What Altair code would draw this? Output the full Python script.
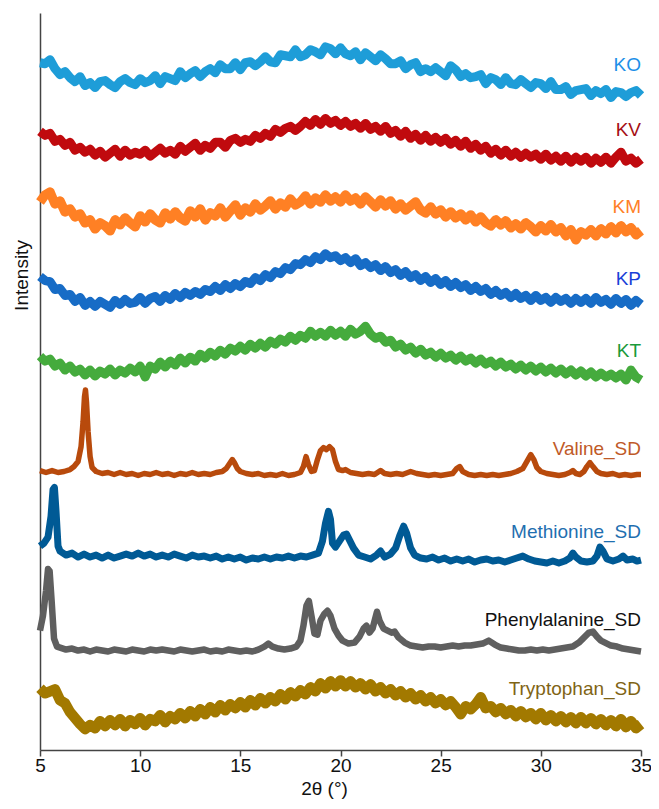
import altair as alt
import pandas as pd

FONT = "Liberation Sans, Arial, sans-serif"

# ---- series names, colours and label levels --------------------------------
SERIES = ["KO", "KV", "KM", "KP", "KT",
          "Valine_SD", "Methionine_SD", "Phenylalanine_SD", "Tryptophan_SD"]
LINE_COLORS = ["#1e9dd8", "#c00a0e", "#ff8024", "#176cc6", "#45ab3d",
               "#b84a0c", "#005a95", "#5f5f5f", "#a27900"]
LABEL_COLORS = ["#1e8fe8", "#a50f15", "#ff7f27", "#1a3fd8", "#1a9a3a",
                "#bf5a28", "#1f6fb0", "#111111", "#7f6415"]
LABEL_LEVEL = [683, 617, 540, 468, 395, 297, 213, 125, 55]
TICKS = [5, 10, 15, 20, 25, 30, 35]

# ---- amorphous patterns: 2θ from 5° to 35° in 0.25° steps (offset intensity)
KO = [691, 690, 694, 685, 679, 682, 676, 672, 677, 668, 671, 666,
      672, 673, 669, 666, 672, 675, 671, 669, 675, 671, 673, 678,
      670, 677, 675, 673, 682, 676, 680, 683, 677, 682, 685, 681,
      689, 685, 685, 691, 684, 691, 692, 688, 692, 697, 692, 691,
      699, 698, 697, 704, 697, 699, 704, 702, 699, 707, 705, 700,
      706, 700, 698, 702, 694, 701, 697, 693, 699, 695, 690, 690,
      693, 685, 689, 691, 682, 685, 682, 686, 682, 678, 688, 684,
      677, 680, 676, 677, 679, 670, 676, 674, 669, 676, 670, 669,
      674, 670, 666, 671, 670, 665, 672, 664, 664, 667, 659, 663,
      664, 665, 658, 663, 660, 664, 656, 662, 661, 657, 661, 663,
      658]
KV = [622, 618, 620, 612, 614, 608, 611, 603, 606, 601, 604, 598,
      602, 596, 600, 604, 597, 603, 598, 601, 599, 603, 597, 601,
      605, 600, 603, 599, 607, 602, 606, 610, 603, 608, 605, 611,
      611, 606, 613, 615, 611, 614, 612, 618, 615, 620, 617, 624,
      621, 625, 627, 623, 627, 632, 628, 634, 629, 635, 630, 633,
      628, 632, 627, 630, 625, 630, 624, 627, 622, 627, 620, 623,
      617, 622, 615, 619, 613, 618, 612, 616, 611, 615, 609, 613,
      607, 612, 605, 609, 603, 607, 600, 604, 598, 603, 597, 601,
      596, 600, 596, 599, 594, 599, 593, 597, 592, 597, 591, 596,
      592, 596, 590, 595, 591, 596, 590, 596, 601, 592, 595, 590,
      594]
KM = [551, 558, 561, 549, 552, 541, 544, 536, 539, 530, 533, 524,
      530, 527, 522, 533, 528, 535, 530, 526, 537, 531, 539, 533,
      530, 540, 534, 541, 535, 532, 542, 536, 544, 533, 540, 537,
      545, 536, 542, 548, 538, 545, 541, 549, 543, 547, 552, 544,
      550, 546, 554, 548, 551, 557, 549, 555, 551, 558, 552, 556,
      551, 558, 552, 555, 549, 556, 551, 546, 553, 547, 552, 544,
      549, 543, 547, 551, 543, 540, 546, 539, 543, 536, 541, 535,
      539, 533, 538, 531, 536, 530, 527, 533, 528, 532, 525, 529,
      524, 530, 526, 521, 527, 522, 528, 521, 525, 517, 523, 513,
      521, 518, 523, 517, 524, 519, 526, 520, 527, 521, 525, 518,
      522]
KP = [476, 472, 471, 463, 464, 457, 458, 451, 455, 447, 451, 446,
      451, 448, 445, 452, 448, 453, 449, 450, 455, 449, 454, 456,
      451, 457, 453, 459, 455, 460, 457, 461, 458, 463, 461, 466,
      462, 468, 464, 469, 466, 471, 469, 475, 472, 478, 475, 481,
      479, 485, 483, 489, 488, 493, 490, 496, 493, 499, 495, 497,
      492, 495, 490, 494, 487, 490, 485, 488, 482, 486, 480, 483,
      477, 481, 475, 478, 472, 476, 470, 474, 468, 472, 466, 470,
      465, 468, 462, 466, 461, 464, 458, 462, 457, 460, 455, 459,
      454, 457, 452, 457, 452, 455, 450, 455, 451, 454, 449, 454,
      450, 454, 449, 455, 450, 453, 448, 454, 449, 453, 447, 452,
      448]
KT = [396, 391, 393, 386, 389, 382, 386, 380, 383, 377, 382, 376,
      381, 378, 383, 377, 382, 379, 384, 380, 386, 375, 386, 383,
      390, 385, 391, 387, 394, 389, 395, 391, 398, 394, 400, 396,
      402, 398, 404, 401, 406, 402, 408, 404, 409, 405, 411, 408,
      413, 410, 416, 412, 417, 414, 421, 416, 420, 416, 422, 417,
      421, 416, 423, 418, 421, 426, 418, 414, 416, 410, 412, 405,
      408, 402, 405, 399, 403, 397, 400, 395, 399, 394, 397, 392,
      396, 391, 394, 389, 393, 388, 391, 386, 390, 385, 388, 383,
      387, 382, 386, 381, 385, 380, 384, 379, 383, 378, 382, 377,
      381, 376, 380, 375, 379, 375, 378, 374, 378, 372, 382, 375,
      372]
TRP = [62, 57, 59, 61, 50, 47, 38, 32, 26, 21, 25, 22,
       29, 24, 30, 25, 31, 24, 30, 26, 32, 25, 31, 29,
       35, 28, 34, 31, 37, 32, 39, 34, 41, 36, 43, 38,
       45, 40, 46, 42, 48, 43, 50, 45, 52, 47, 53, 49,
       56, 51, 58, 54, 60, 56, 63, 59, 67, 62, 69, 64,
       70, 64, 69, 63, 67, 61, 66, 59, 63, 57, 61, 55,
       59, 53, 57, 51, 55, 49, 53, 47, 51, 45, 49, 43,
       36, 44, 41, 46, 53, 42, 44, 38, 42, 36, 40, 34,
       39, 33, 37, 31, 37, 30, 35, 29, 34, 28, 33, 27,
       33, 27, 32, 26, 31, 25, 30, 24, 31, 23, 29, 22,
       26]

# ---- crystalline patterns (irregular 2θ sampling, offset intensity) -------
VAL_T = [5.0, 5.3, 5.6, 5.9, 6.2, 6.5, 6.7, 6.9, 7.05, 7.15, 7.22, 7.27, 7.32,
         7.4, 7.5, 7.6, 7.8, 8.1, 8.4, 8.7, 9.0, 9.3, 9.6, 9.9, 10.2, 10.5,
         10.8, 11.1, 11.4, 11.7, 12.0, 12.3, 12.6, 12.9, 13.2, 13.5, 13.8,
         14.1, 14.3, 14.5, 14.6, 14.7, 14.85, 15.0, 15.3, 15.6, 15.9, 16.2,
         16.5, 16.8, 17.1, 17.4, 17.7, 18.0, 18.15, 18.28, 18.4, 18.55, 18.7,
         18.85, 19.0, 19.15, 19.3, 19.45, 19.6, 19.75, 19.9, 20.1, 20.25, 20.5,
         20.8, 21.1, 21.4, 21.7, 22.0, 22.2, 22.5, 22.8, 23.1, 23.5, 23.8,
         24.1, 24.4, 24.7, 25.0, 25.3, 25.6, 25.8, 25.95, 26.1, 26.4, 26.7,
         27.0, 27.3, 27.6, 27.9, 28.2, 28.5, 28.8, 29.1, 29.3, 29.5, 29.65,
         29.8, 30.0, 30.3, 30.6, 30.9, 31.2, 31.45, 31.6, 31.75, 31.95, 32.15,
         32.3, 32.45, 32.6, 32.8, 33.0, 33.3, 33.6, 33.9, 34.2, 34.5, 34.8, 35.0]
VAL_I = [281, 279, 281, 279, 280, 282, 285, 290, 305, 330, 355, 362, 350,
         320, 295, 284, 280, 278, 279, 277, 279, 277, 278, 276, 278, 277,
         279, 277, 278, 276, 278, 277, 279, 277, 278, 277, 279,
         280, 283, 289, 292, 289, 283, 280, 278, 277, 278, 276,
         277, 276, 278, 276, 277, 279, 285, 295, 287, 280, 281,
         292, 301, 304, 302, 305, 302, 290, 282, 281, 282, 279,
         278, 277, 278, 277, 281, 278, 277, 278, 277, 280, 278,
         277, 276, 277, 276, 277, 278, 283, 285, 280, 277, 276,
         277, 276, 277, 276, 277, 278, 280, 283, 290, 297, 292,
         284, 280, 278, 277, 276, 277, 279, 281, 278, 277, 280,
         285, 289, 285, 280, 278, 277, 278, 276, 277, 276, 277, 277]

MET_T = [5.0, 5.2, 5.4, 5.55, 5.65, 5.72, 5.8, 5.9, 6.0, 6.3, 6.6, 6.9, 7.2,
         7.5, 7.8, 8.1, 8.4, 8.7, 9.0, 9.3, 9.6, 9.9, 10.2, 10.5, 10.8, 11.1,
         11.4, 11.7, 12.0, 12.3, 12.6, 12.9, 13.2, 13.5, 13.8, 14.1, 14.4,
         14.7, 15.0, 15.3, 15.6, 15.9, 16.2, 16.5, 16.8, 17.1, 17.4, 17.7,
         18.0, 18.3, 18.6, 18.9, 19.1, 19.25, 19.4, 19.5, 19.6, 19.75, 19.95,
         20.15, 20.3, 20.45, 20.65, 20.9, 21.2, 21.5, 21.8, 22.0, 22.2, 22.5,
         22.75, 22.95, 23.15, 23.3, 23.5, 23.7, 24.0, 24.3, 24.6, 24.9, 25.2,
         25.5, 25.8, 26.1, 26.4, 26.7, 27.0, 27.3, 27.6, 27.9, 28.2, 28.5,
         28.8, 29.1, 29.4, 29.7, 30.0, 30.3, 30.6, 30.9, 31.2, 31.45, 31.6,
         31.75, 32.0, 32.3, 32.6, 32.8, 32.95, 33.1, 33.3, 33.6, 33.9, 34.1,
         34.3, 34.6, 34.8, 35.0]
MET_I = [205, 208, 214, 235, 262, 264, 240, 205, 200, 196, 198, 194, 197,
         194, 196, 193, 196, 193, 195, 197, 195, 198, 195, 197, 194, 196,
         194, 197, 195, 193, 196, 194, 195, 193, 195, 192, 194,
         192, 194, 191, 193, 192, 194, 192, 194, 193, 195, 193,
         195, 194, 196, 198, 210, 228, 240, 232, 208, 204, 210,
         216, 217, 211, 203, 196, 194, 192, 196, 200, 194, 197,
         203, 215, 225, 218, 203, 196, 193, 192, 194, 191, 193,
         190, 192, 190, 192, 189, 191, 192, 190, 191, 189, 191,
         193, 195, 192, 190, 189, 188, 190, 188, 190, 193, 198,
         194, 190, 189, 190, 195, 204, 200, 192, 190, 192, 195,
         191, 192, 190, 191]

PHE_T = [5.0, 5.15, 5.3, 5.4, 5.48, 5.58, 5.7, 5.85, 6.0, 6.3, 6.6, 6.9, 7.2,
         7.5, 7.8, 8.1, 8.4, 8.7, 9.0, 9.3, 9.6, 9.9, 10.2, 10.5, 10.8, 11.1,
         11.4, 11.7, 12.0, 12.3, 12.6, 12.9, 13.2, 13.5, 13.8, 14.1, 14.4,
         14.7, 15.0, 15.3, 15.6, 15.9, 16.2, 16.4, 16.6, 16.9, 17.2, 17.5,
         17.8, 18.0, 18.15, 18.3, 18.42, 18.55, 18.7, 18.85, 19.0, 19.2, 19.35,
         19.5, 19.7, 19.9, 20.1, 20.4, 20.7, 20.95, 21.15, 21.3, 21.45, 21.6,
         21.82, 21.95, 22.15, 22.35, 22.55, 22.7, 22.9, 23.2, 23.5, 23.8, 24.1,
         24.4, 24.7, 25.0, 25.3, 25.6, 25.9, 26.2, 26.5, 26.8, 27.1, 27.4,
         27.7, 28.0, 28.3, 28.6, 28.9, 29.2, 29.5, 29.8, 30.1, 30.4, 30.7,
         31.0, 31.3, 31.6, 31.9, 32.2, 32.4, 32.6, 32.8, 33.0, 33.2, 33.5,
         33.8, 34.1, 34.4, 34.7, 35.0]
PHE_I = [120, 135, 160, 182, 180, 150, 112, 104, 103, 101, 102, 100, 101,
         99, 101, 100, 99, 101, 100, 99, 101, 100, 99, 101, 100, 101,
         100, 99, 101, 100, 99, 100, 101, 99, 100, 99, 101,
         100, 99, 100, 99, 101, 104, 107, 104, 102, 101, 102,
         104, 110, 125, 145, 150, 135, 117, 116, 130, 137, 140,
         135, 122, 115, 110, 107, 108, 114, 122, 125, 118, 122,
         139, 130, 122, 120, 118, 119, 113, 108, 105, 104, 103,
         104, 104, 103, 104, 105, 104, 105, 105, 106, 107, 110,
         106, 103, 102, 101, 100, 100, 101, 100, 101, 100, 101,
         102, 103, 104, 108, 114, 118, 119, 114, 110, 108, 105,
         104, 102, 101, 100, 99]

AMORPHOUS = {"KO": KO, "KV": KV, "KM": KM, "KP": KP, "KT": KT, "Tryptophan_SD": TRP}
CRYSTALLINE = {"Valine_SD": (VAL_T, VAL_I),
               "Methionine_SD": (MET_T, MET_I),
               "Phenylalanine_SD": (PHE_T, PHE_I)}
STEP = 0.25


def frame(name):
    if name in AMORPHOUS:
        vals = AMORPHOUS[name]
        return pd.DataFrame({"theta": [5 + STEP * i for i in range(len(vals))],
                             "intensity": vals})
    t, v = CRYSTALLINE[name]
    return pd.DataFrame({"theta": t, "intensity": v})


WIDTHS = {"KO": 9, "KV": 9, "KM": 9.5, "KP": 9, "KT": 9,
          "Valine_SD": 5.5, "Methionine_SD": 7, "Phenylalanine_SD": 6.5,
          "Tryptophan_SD": 10.5}

x_enc = alt.X("theta:Q",
              scale=alt.Scale(domain=[5, 35], nice=False, zero=False),
              axis=alt.Axis(values=TICKS, format="d", title="2θ (°)", grid=False,
                            tickSize=6, tickWidth=1.5, domainWidth=1.5,
                            domainColor="#444444", tickColor="#444444",
                            labelFont=FONT, labelFontSize=19, labelColor="#111111",
                            labelBaseline="alphabetic", labelPadding=15,
                            labelFlush=False,
                            titleFont=FONT, titleFontSize=19, titleFontWeight="normal",
                            titleColor="#111111", titleX=284, titleY=44,
                            titleBaseline="alphabetic", titleAlign="center"))
y_enc = alt.Y("intensity:Q",
              scale=alt.Scale(domain=[0, 741], nice=False, zero=False),
              axis=alt.Axis(labels=False, ticks=False, grid=False, title="Intensity",
                            domainWidth=1.5, domainColor="#444444",
                            titleFont=FONT, titleFontSize=19, titleFontWeight="normal",
                            titleColor="#111111", titleAngle=270, titleX=-19,
                            titleY=262, titleBaseline="middle", titleAlign="center"))

layers = []
for name, color in zip(SERIES, LINE_COLORS):
    layers.append(
        alt.Chart(frame(name)).mark_line(color=color, strokeWidth=WIDTHS[name],
                                         strokeJoin="round", strokeCap="butt")
        .encode(x=x_enc, y=y_enc)
    )

labels = pd.DataFrame({"theta": [35] * len(SERIES), "intensity": LABEL_LEVEL,
                       "text": SERIES, "color": LABEL_COLORS})
layers.append(
    alt.Chart(labels).mark_text(align="right", baseline="alphabetic", font=FONT,
                                fontSize=19)
    .encode(x=x_enc, y=y_enc, text="text:N", color=alt.Color("color:N", scale=None))
)

chart = (
    alt.layer(*layers)
    .properties(width=601, height=737,
                autosize=alt.AutoSizeParams(type="none"),
                padding={"left": 32, "top": 5, "right": 10, "bottom": 51},
                background="white")
    .configure_view(stroke=None)
)

chart.save("out.html", embed_options={"renderer": "svg", "actions": False})
